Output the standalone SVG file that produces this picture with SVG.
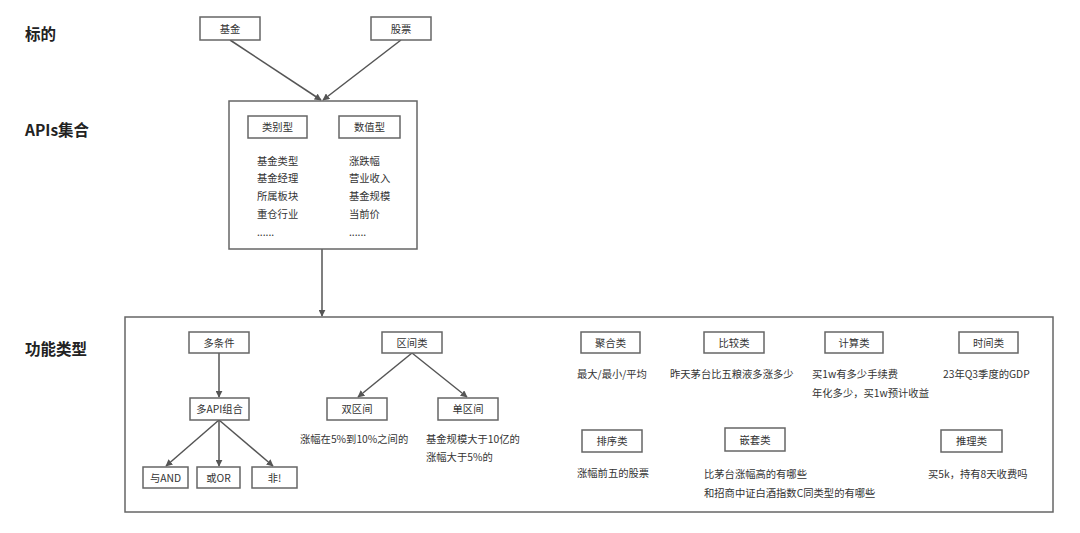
<svg xmlns="http://www.w3.org/2000/svg" width="1080" height="533" viewBox="0 0 1080 533">
<defs>
<marker id="ah" viewBox="0 0 10 10" refX="9" refY="5" markerWidth="7" markerHeight="7" orient="auto-start-reverse" markerUnits="userSpaceOnUse">
<path d="M0,0 L10,5 L0,10 Z" fill="#555"/>
</marker>
<style>
text{font-family:"Noto Sans CJK SC","Liberation Sans",sans-serif;fill:#333;}
.t{font-size:15.5px;font-weight:bold;fill:#222;}
.s{font-size:10.3px;}
.c{text-anchor:middle;}
.b{fill:#fff;stroke:#666;stroke-width:1.5;}
.f{fill:none;stroke:#666;stroke-width:1.5;}
.e{stroke:#555;stroke-width:1.5;fill:none;marker-end:url(#ah);}
</style>
</defs>
<rect width="1080" height="533" fill="#fff"/>
<g id="titles">
<text class="t" x="25" y="40">标的</text>
<text class="t" x="25" y="136">APIs集合</text>
<text class="t" x="25" y="355">功能类型</text>
</g>
<g id="connectors">
<line class="e" x1="230" y1="40" x2="321" y2="100"/>
<line class="e" x1="401" y1="40" x2="323" y2="100"/>
<line class="e" x1="322" y1="249" x2="322" y2="316"/>
<line class="e" x1="219" y1="353" x2="219" y2="397"/>
<line class="e" x1="219" y1="420" x2="166" y2="466"/>
<line class="e" x1="219" y1="420" x2="219" y2="466"/>
<line class="e" x1="219" y1="420" x2="273" y2="466"/>
<line class="e" x1="412" y1="353" x2="358" y2="397"/>
<line class="e" x1="412" y1="353" x2="467" y2="397"/>
</g>
<g id="n-jijin"><rect class="b" x="200" y="17" width="60" height="23"/><text class="s c" x="230" y="32.5">基金</text></g>
<g id="n-gupiao"><rect class="b" x="371" y="17" width="60" height="23"/><text class="s c" x="401" y="32.5">股票</text></g>
<g id="n-apis">
<rect class="f" x="229" y="101" width="188" height="148"/>
<rect class="b" x="248" y="116" width="59" height="22"/><text class="s c" x="277.5" y="131">类别型</text>
<rect class="b" x="339" y="116" width="61" height="22"/><text class="s c" x="369.5" y="131">数值型</text>
<text class="s" x="257" y="165">基金类型</text>
<text class="s" x="257" y="182">基金经理</text>
<text class="s" x="257" y="200">所属板块</text>
<text class="s" x="257" y="218">重仓行业</text>
<text class="s" x="257" y="236">......</text>
<text class="s" x="349" y="165">涨跌幅</text>
<text class="s" x="349" y="182">营业收入</text>
<text class="s" x="349" y="200">基金规模</text>
<text class="s" x="349" y="218">当前价</text>
<text class="s" x="349" y="236">......</text>
</g>
<g id="n-func"><rect class="f" x="125" y="317" width="928" height="195"/></g>
<g id="n-duotiaojian"><rect class="b" x="189" y="332" width="60" height="21"/><text class="s c" x="219" y="346.5">多条件</text></g>
<g id="n-duoapi"><rect class="b" x="190" y="398" width="59" height="22"/><text class="s c" x="219.5" y="413">多API组合</text></g>
<g id="n-and"><rect class="b" x="143" y="467" width="45" height="21"/><text class="s c" x="165.5" y="481.5">与AND</text></g>
<g id="n-or"><rect class="b" x="197" y="467" width="43" height="21"/><text class="s c" x="218.5" y="481.5">或OR</text></g>
<g id="n-not"><rect class="b" x="252" y="467" width="45" height="21"/><text class="s c" x="274.5" y="481.5">非!</text></g>
<g id="n-qujian"><rect class="b" x="382" y="332" width="60" height="21"/><text class="s c" x="412" y="346.5">区间类</text></g>
<g id="n-shuang"><rect class="b" x="327" y="398" width="60" height="22"/><text class="s c" x="357" y="413">双区间</text></g>
<g id="n-dan"><rect class="b" x="438" y="398" width="60" height="22"/><text class="s c" x="468" y="413">单区间</text></g>
<g id="t-qujian">
<text class="s" x="300" y="443">涨幅在5%到10%之间的</text>
<text class="s" x="426" y="443">基金规模大于10亿的</text>
<text class="s" x="426" y="461">涨幅大于5%的</text>
</g>
<g id="n-juhe"><rect class="b" x="581" y="332" width="59" height="21"/><text class="s c" x="610.5" y="346.5">聚合类</text><text class="s" x="577" y="378">最大/最小/平均</text></g>
<g id="n-bijiao"><rect class="b" x="704" y="332" width="60" height="21"/><text class="s c" x="734" y="346.5">比较类</text><text class="s" x="670" y="378">昨天茅台比五粮液多涨多少</text></g>
<g id="n-jisuan"><rect class="b" x="825" y="332" width="58" height="21"/><text class="s c" x="854" y="346.5">计算类</text><text class="s" x="812" y="378">买1w有多少手续费</text><text class="s" x="812" y="397">年化多少，买1w预计收益</text></g>
<g id="n-shijian"><rect class="b" x="959" y="332" width="59" height="21"/><text class="s c" x="988.5" y="346.5">时间类</text><text class="s" x="943" y="378">23年Q3季度的GDP</text></g>
<g id="n-paixu"><rect class="b" x="582" y="430" width="60" height="22"/><text class="s c" x="612" y="445">排序类</text><text class="s" x="577" y="477">涨幅前五的股票</text></g>
<g id="n-qiantao"><rect class="b" x="725" y="428" width="60" height="23"/><text class="s c" x="755" y="443.5">嵌套类</text><text class="s" x="704" y="478">比茅台涨幅高的有哪些</text><text class="s" x="704" y="497">和招商中证白酒指数C同类型的有哪些</text></g>
<g id="n-tuili"><rect class="b" x="941" y="430" width="61" height="22"/><text class="s c" x="971.5" y="445">推理类</text><text class="s" x="928" y="478">买5k，持有8天收费吗</text></g>
</svg>
